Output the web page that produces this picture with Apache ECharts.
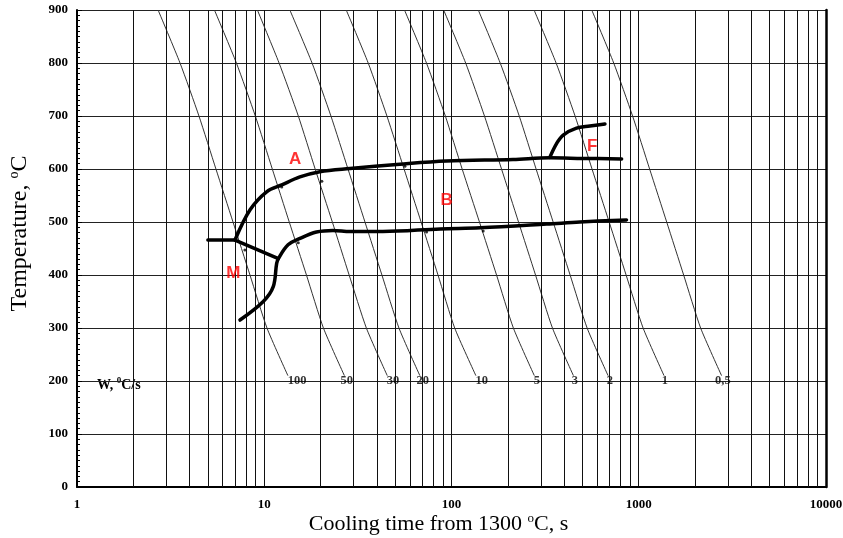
<!DOCTYPE html>
<html>
<head>
<meta charset="utf-8">
<script src="https://cdn.jsdelivr.net/npm/echarts@6/dist/echarts.min.js"></script>
<style>
  html, body { margin: 0; padding: 0; background: #fff; }
  #chart { width: 843px; height: 538px; }
</style>
</head>
<body>
<div id="chart"></div>
<script>
// temperature levels where the cooling curves were read
var coolTemps = [900, 800, 700, 600, 500, 400, 300, 210];
// cooling time (s) at those levels, one array per cooling rate
var cool100 = [2.71, 3.55, 4.48, 5.52, 6.81, 8.39, 10.34, 13.38];
var cool50 = [5.42, 7.1, 8.96, 11.04, 13.6, 16.8, 20.7, 26.8];
var cool30 = [9.19, 12.0, 15.2, 18.7, 23.1, 28.4, 35.1, 45.4];
var cool20 = [13.7, 18.0, 22.7, 28.0, 34.5, 42.5, 52.4, 67.8];
var cool10 = [27.4, 35.9, 45.2, 55.8, 68.8, 84.7, 104, 135];
var cool5 = [56.1, 73.5, 92.7, 114, 141, 174, 214, 277];
var cool3 = [90.8, 119, 150, 185, 228, 281, 346, 448];
var cool2 = [139, 182, 230, 283, 349, 430, 530, 686];
var cool1 = [276, 362, 457, 563, 695, 856, 1055, 1365];
var cool05 = [561, 735, 927, 1143, 1410, 1737, 2140, 2770];

// cooling rate labels, placed at 200 degC
var rateNames = ['100', '50', '30', '20', '10', '5', '3', '2', '1', '0,5'];
var rateLabelX = [15, 27.6, 48.7, 70.3, 145, 286, 456, 701, 1378, 2812];

// transformation lines [time, temp]
var msLine = [[5.0, 466], [6.98, 466]];
var mDiag = [[6.98, 466], [11.9, 431]];
var aStart = [[6.98, 466], [8.4, 523], [10.3, 557], [12.4, 570], [15.5, 585], [19.8, 595],
  [28.7, 601], [53, 609], [94, 615], [213, 618], [335, 621], [500, 620], [810, 619]];
var bStart = [[7.42, 315], [9.88, 350], [11.17, 378], [11.65, 422], [11.9, 431], [13.4, 457],
  [15.5, 469], [19, 481], [23.3, 484], [28.7, 482], [43, 482], [87, 487], [142, 489],
  [322, 496], [485, 500], [860, 504]];
var fStart = [[335, 622], [364, 648], [395, 664], [465, 677], [548, 681], [660, 685]];

// small dots where cooling lines meet the transformation lines
var dotsX = [12.4, 20.3, 56.4, 7.88, 15.2, 73.6, 147.6];
var dotsY = [566, 577, 605, 447, 461, 481, 483];

// region letters
var zoneNames = ['A', 'B', 'F', 'M'];
var zoneX = [14.6, 94.2, 564, 6.83];
var zoneY = [619, 541, 643, 403];

// minor vertical grid lines of the log axis
var gridX = [2, 3, 4, 5, 6, 7, 8, 9, 20, 30, 40, 50, 60, 70, 80, 90,
  200, 300, 400, 500, 600, 700, 800, 900, 2000, 3000, 4000, 5000, 6000, 7000, 8000, 9000];

var serif = '"Liberation Serif", "Times New Roman", serif';
var sans = '"Liberation Sans", Arial, sans-serif';

var chart = echarts.init(document.getElementById('chart'));

var coolSets = [cool100, cool50, cool30, cool20, cool10, cool5, cool3, cool2, cool1, cool05];
var series = [];

// vertical grid
series.push({
  type: 'line',
  data: [],
  silent: true,
  markLine: {
    silent: true,
    symbol: ['none', 'none'],
    label: { show: false },
    lineStyle: { color: '#111', width: 1, type: 'solid' },
    data: gridX.map(function (v) { return { xAxis: v }; })
  }
});

for (var i = 0; i < coolSets.length; i++) {
  var pts = [];
  for (var j = 0; j < coolTemps.length; j++) {
    pts.push([coolSets[i][j], coolTemps[j]]);
  }
  series.push({
    type: 'line',
    data: pts,
    smooth: 0.2,
    symbol: 'none',
    silent: true,
    lineStyle: { color: '#333', width: 1 }
  });
}

var thickLines = [msLine, mDiag, aStart, bStart, fStart];
for (var k = 0; k < thickLines.length; k++) {
  series.push({
    type: 'line',
    data: thickLines[k],
    smooth: 0.35,
    symbol: 'none',
    silent: true,
    z: 5,
    lineStyle: { color: '#000', width: 3.5, cap: 'round' }
  });
}

series.push({
  type: 'scatter',
  data: dotsX.map(function (x, n) { return [x, dotsY[n]]; }),
  symbolSize: 3,
  itemStyle: { color: '#000' },
  silent: true,
  z: 6
});

series.push({
  type: 'scatter',
  data: rateLabelX.map(function (x, n) { return [x, 200, rateNames[n]]; }),
  symbolSize: 0,
  silent: true,
  label: {
    show: true,
    position: 'inside',
    formatter: function (p) { return p.value[2]; },
    fontFamily: serif,
    fontWeight: 'bold',
    fontSize: 12.5,
    color: '#000'
  }
});

series.push({
  type: 'scatter',
  data: zoneX.map(function (x, n) { return [x, zoneY[n], zoneNames[n]]; }),
  symbolSize: 0,
  silent: true,
  z: 7,
  label: {
    show: true,
    position: 'inside',
    formatter: function (p) { return p.value[2]; },
    fontFamily: sans,
    fontWeight: 'bold',
    fontSize: 17,
    color: '#ff0000'
  }
});

var option = {
  backgroundColor: '#fff',
  animation: false,
  grid: { left: 77, right: 17, top: 10, bottom: 51, containLabel: false, outerBoundsMode: 'none' },
  xAxis: {
    type: 'log',
    logBase: 10,
    min: 1,
    max: 10000,
    name: 'Cooling time from 1300 {sup|o}C, s',
    nameLocation: 'middle',
    nameGap: 25,
    nameMoveOverlap: false,
    nameTextStyle: {
      fontFamily: serif,
      fontSize: 22,
      color: '#000',
      padding: [0, 26, 0, 0],
      rich: {
        sup: { fontFamily: serif, fontSize: 13, padding: [0, 0, 11, 0], color: '#000' }
      }
    },
    axisLine: { lineStyle: { color: '#000', width: 2 } },
    axisTick: { show: false },
    axisLabel: {
      margin: 11,
      fontFamily: serif,
      fontWeight: 'bold',
      fontSize: 13,
      color: '#000',
      formatter: function (v) { return String(v); }
    },
    splitLine: { show: true, lineStyle: { color: '#111', width: 1 } }
  },
  yAxis: [{
    type: 'value',
    min: 0,
    max: 900,
    interval: 100,
    name: 'Temperature, {sup|o}C',
    nameLocation: 'middle',
    nameGap: 44,
    nameMoveOverlap: false,
    nameTextStyle: {
      fontFamily: serif,
      fontSize: 24,
      color: '#000',
      padding: [0, 0, 0, 30],
      rich: {
        sup: { fontFamily: serif, fontSize: 14, padding: [0, 0, 12, 0], color: '#000' }
      }
    },
    axisLine: { show: true, lineStyle: { color: '#000', width: 2 } },
    axisTick: { show: true, inside: true, length: 5, lineStyle: { color: '#000' } },
    minorTick: { show: true, splitNumber: 10, length: 3, lineStyle: { color: '#000' } },
    axisLabel: {
      margin: 9,
      fontFamily: serif,
      fontWeight: 'bold',
      fontSize: 13,
      color: '#000'
    },
    splitLine: { show: true, lineStyle: { color: '#222', width: 1 } }
  }, {
    type: 'value',
    position: 'right',
    min: 0,
    max: 900,
    axisLine: { show: true, lineStyle: { color: '#000', width: 2.5 } },
    axisTick: { show: false },
    axisLabel: { show: false },
    splitLine: { show: false }
  }],
  graphic: [{
    type: 'text',
    left: 97,
    top: 376,
    style: {
      text: '{b|W, }{s|0}{b|C/s}',
      rich: {
        b: { fontFamily: serif, fontWeight: 'bold', fontSize: 14, fill: '#000' },
        s: { fontFamily: serif, fontWeight: 'bold', fontSize: 9, fill: '#000', padding: [0, 0, 9, 0] }
      }
    }
  }],
  series: series
};

chart.setOption(option);
</script>
</body>
</html>
